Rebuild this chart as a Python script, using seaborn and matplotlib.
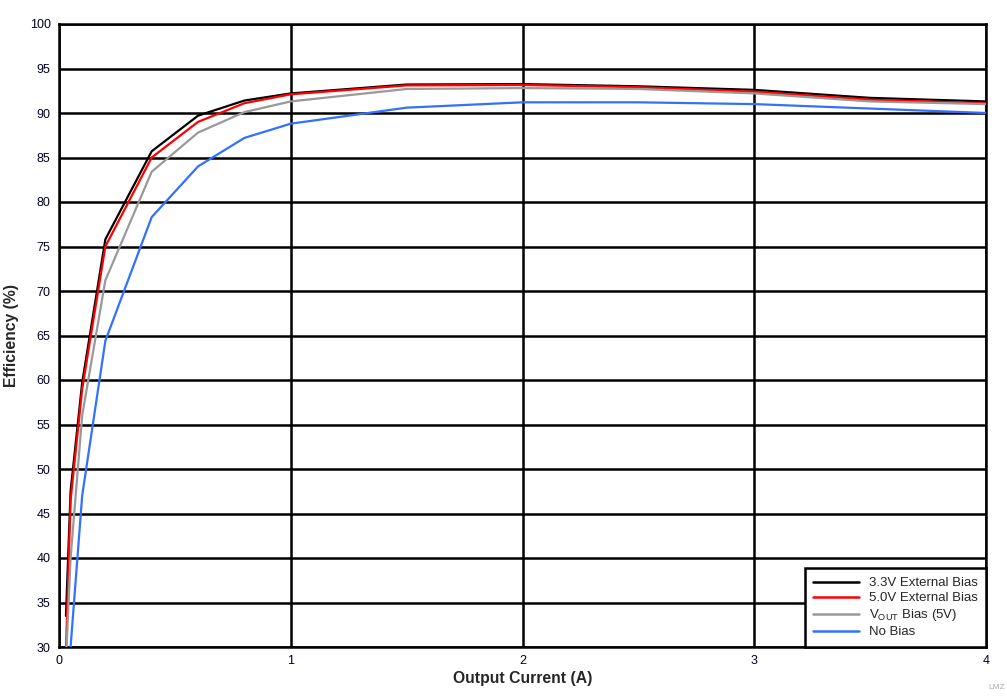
import matplotlib
matplotlib.use("Agg")
import matplotlib.pyplot as plt
import seaborn as sns
import pandas as pd

current = [0.03, 0.05, 0.1, 0.2, 0.4, 0.6, 0.8, 1.0, 1.5, 2.0, 2.5, 3.0, 3.5, 4.0]
eff_33v = [33.5, 47.5, 59.7, 75.8, 85.7, 89.7, 91.4, 92.2, 93.2, 93.25, 93.0, 92.6, 91.7, 91.3]
eff_50v = [29.5, 46.5, 59.0, 75.0, 85.0, 89.0, 91.1, 92.1, 93.1, 93.15, 92.9, 92.4, 91.5, 91.1]
eff_vout = [28.5, 40.0, 56.0, 71.2, 83.4, 87.8, 90.1, 91.3, 92.7, 92.8, 92.7, 92.2, 91.3, 91.0]
eff_nobias = [20.0, 30.0, 47.0, 64.4, 78.3, 84.0, 87.2, 88.8, 90.6, 91.2, 91.2, 91.0, 90.5, 90.0]

labels = ["3.3V External Bias", "5.0V External Bias",
          r"V$_{\mathregular{OUT}}$ Bias (5V)", "No Bias"]
colors = ["#000000", "#ff0000", "#999999", "#3370ff"]
series = [eff_33v, eff_50v, eff_vout, eff_nobias]

sns.set_style("white")
plt.rcParams["font.family"] = ["Liberation Sans", "DejaVu Sans"]
plt.rcParams["mathtext.fontset"] = "custom"
plt.rcParams["mathtext.rm"] = "Liberation Sans"

fig = plt.figure(figsize=(10.07, 6.99), dpi=100)
ax = fig.add_axes([59/1007, 1-647/699, (986-59)/1007, (647-24)/699])

for lab, col, ys in zip(labels, colors, series):
    df = pd.DataFrame({"x": current, "y": ys})
    sns.lineplot(data=df, x="x", y="y", ax=ax, color=col, lw=1.6, label=lab,
                 clip_on=True, zorder=3)

ax.set_xlim(0, 4)
ax.set_ylim(30, 100)
ax.set_xticks([0, 1, 2, 3, 4])
ax.set_yticks(list(range(30, 101, 5)))
ax.grid(True, color="black", lw=1.8, zorder=1)
ax.set_axisbelow(True)
for s in ax.spines.values():
    s.set_color("black")
    s.set_linewidth(1.8)
ax.tick_params(axis="both", length=0, labelsize=9, colors="#000022", pad=6)
ax.set_xlabel("Output Current (A)", fontsize=11.3, fontweight="bold", labelpad=3)
ax.set_ylabel("Efficiency (%)", fontsize=11.3, fontweight="bold", labelpad=8)

leg = ax.legend(loc="lower right", fontsize=9.5, frameon=True, fancybox=False,
                framealpha=1.0, borderaxespad=0, handlelength=3.5,
                labelspacing=0.22, borderpad=0.65, handletextpad=0.7)
leg.set_zorder(10)
leg.get_frame().set_edgecolor("black")
leg.get_frame().set_facecolor("white")
leg.get_frame().set_linewidth(1.8)
for line in leg.get_lines():
    line.set_linewidth(1.8)

fig.text(0.998, 0.012, "LMZ", fontsize=6, color="#aaaaaa", ha="right", va="bottom")

fig.savefig("out.png", dpi=100)
